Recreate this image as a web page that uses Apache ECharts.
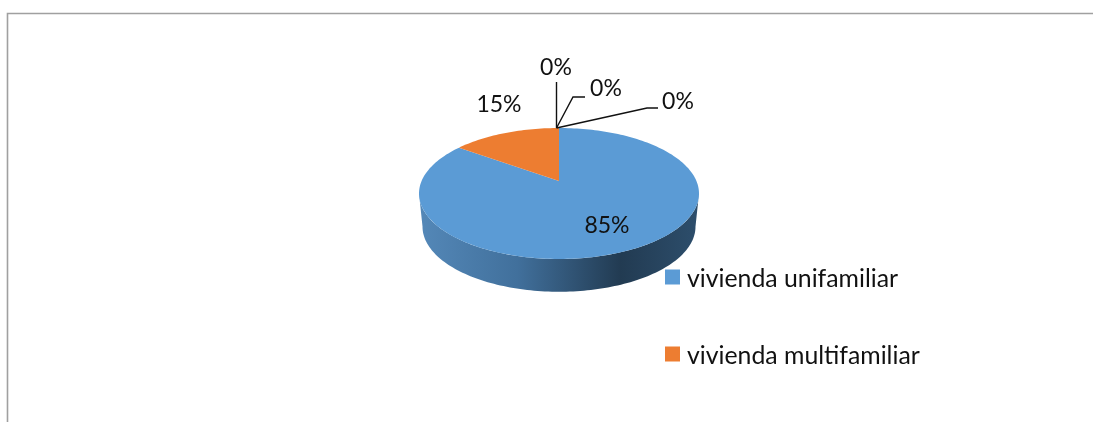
<!DOCTYPE html>
<html>
<head>
<meta charset="utf-8">
<style>html,body{margin:0;padding:0;background:#fff}#c{width:1093px;height:422px}</style>
<script src="https://cdn.jsdelivr.net/npm/echarts@6/dist/echarts.min.js"></script>
</head>
<body>
<div id="c"></div>
<script>
const categories = ['vivienda unifamiliar', 'vivienda multifamiliar', '', '', ''];
const values = [85, 15, 0, 0, 0];
const sliceColors = ['#5b9bd5', '#ed7d31'];

// label layout in pixels: text centre, then the leader line (if any)
const labelLayout = [
  { x: 607, y: 226 },
  { x: 499, y: 105 },
  { x: 556, y: 68, line: [[556.5, 82], [556.5, 128]] },
  { x: 606, y: 89, line: [[585, 97], [573, 97], [556.5, 128]] },
  { x: 678, y: 102, line: [[658, 108], [647, 108], [556.5, 128]] }
];

const FONT = '23px Lato, "Open Sans", sans-serif';
const TEXT = '#111111';
const total = values.reduce((a, b) => a + b, 0);
const PERSP = 0.191, K = Math.sqrt(1 - PERSP * PERSP), B = 0.191;

// value share -> projected point on the tilted disc (axes run -1..1)
function project(share, r) {
  const t = share * 2 * Math.PI, u = r * Math.sin(t), v = r * Math.cos(t);
  const d = 1 + PERSP * v;
  return [K * u / d, (v + B) / d];
}
function sliceRender(params, api) {
  const s = api.value(0), e = api.value(1);
  const pts = [api.coord(project(0, 0))];
  const n = Math.max(2, Math.ceil((e - s) * 240));
  for (let i = 0; i <= n; i++) pts.push(api.coord(project(s + (e - s) * i / n, 1)));
  return { type: 'polygon', shape: { points: pts }, style: { fill: api.visual('color') } };
}
function wallRender(params, api) {
  const pts = [], n = 120;
  for (let i = 0; i <= n; i++) {
    const a = Math.PI * i / n;
    pts.push(api.coord([Math.cos(a), -Math.sin(a)]));
  }
  for (let i = n; i >= 0; i--) {
    const a = Math.PI * i / n;
    pts.push(api.coord([0.975 * Math.cos(a), -0.505 - 0.995 * Math.sin(a) ]));
  }
  return {
    type: 'polygon', shape: { points: pts },
    style: {
      fill: new echarts.graphic.LinearGradient(0, 0, 1, 0, [
        { offset: 0, color: '#5488b8' },
        { offset: 0.35, color: '#41709c' },
        { offset: 0.72, color: '#223b52' },
        { offset: 1, color: '#2d4e6c' }
      ])
    }
  };
}
function labelRender(params, api) {
  const i = api.value(0), v = api.value(1), l = labelLayout[i], kids = [];
  if (l.line) kids.push({ type: 'polyline', shape: { points: l.line }, style: { stroke: '#111', lineWidth: 1.4, fill: null } });
  kids.push({ type: 'text', style: { x: l.x, y: l.y, text: Math.round(v / total * 100) + '%', font: FONT, fill: TEXT, align: 'center', verticalAlign: 'middle' } });
  return { type: 'group', children: kids };
}

const axisBase = { type: 'value', min: -1, max: 1, show: false };
let cum = 0;
const sliceSeries = values.slice(0, 2).map((v, i) => {
  const s = cum / total; cum += v;
  return {
    type: 'custom', name: categories[i], renderItem: sliceRender, z: 3, silent: true, clip: false,
    itemStyle: { color: sliceColors[i] }, data: [[s, cum / total]]
  };
});

const chart = echarts.init(document.getElementById('c'), null, { renderer: 'canvas' });
chart.setOption({
  animation: false,
  backgroundColor: '#fff',
  grid: { left: 419, width: 280, top: 128, height: 131 },
  xAxis: axisBase,
  yAxis: axisBase,
  legend: {
    data: categories.slice(0, 2), orient: 'vertical', left: 665, top: 267, padding: 0, itemWidth: 15, itemHeight: 15, itemGap: 52,
    icon: 'rect', selectedMode: false,
    formatter: '{t|{name}}',
    textStyle: {
      fontFamily: 'Lato, "Open Sans", sans-serif', fontSize: 24.8, color: TEXT,
      rich: { t: { fontFamily: 'Lato, "Open Sans", sans-serif', fontSize: 24.8, color: TEXT, padding: [5, 0, 0, 2] } }
    }
  },
  graphic: [{ type: 'polyline', silent: true, shape: { points: [[7.5, 422], [7.5, 13.5], [1093, 13.5]] }, style: { stroke: '#a0a0a0', lineWidth: 1.6, fill: null } }],
  series: [
    { type: 'custom', name: 'lateral', renderItem: wallRender, z: 2, silent: true, clip: false, itemStyle: { color: '#2d4e6c' }, data: [[0, 1]] },
    ...sliceSeries,
    { type: 'custom', name: 'etiquetas', renderItem: labelRender, z: 5, silent: true, clip: false, data: values.map((v, i) => [i, v]) }
  ]
});
</script>
</body>
</html>
